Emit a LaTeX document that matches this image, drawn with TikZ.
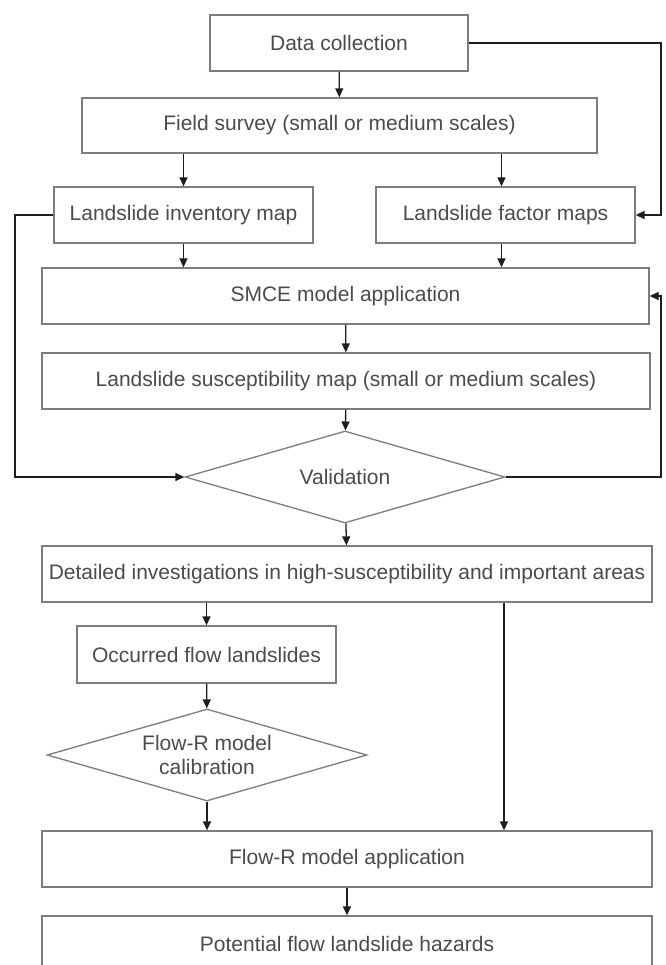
\documentclass[tikz,border=0pt]{standalone}
\usepackage{fontspec}
\setmainfont{Liberation Sans}
\usepackage{tikz}
\usetikzlibrary{positioning, arrows.meta, shapes.geometric, calc}
\definecolor{boxgray}{RGB}{125,125,125}
\definecolor{txtgray}{RGB}{75,75,75}
\definecolor{arrgray}{RGB}{30,30,30}

\begin{document}
\begin{tikzpicture}[
  x=1pt, y=-1pt,
  font=\fontsize{21}{24}\selectfont,
  stage/.style={draw=boxgray, line width=1.3pt, minimum height=56pt,
                align=center, text=txtgray, inner sep=0pt},
  check/.style={draw=boxgray, line width=1.3pt, diamond, aspect=3.48,
                minimum width=320pt, minimum height=92pt, inner sep=0pt,
                align=center, text=txtgray},
  arr/.style={-{Triangle[length=9pt,width=8pt]}, draw=arrgray, line width=1.3pt},
]
\clip (0,0) rectangle (665,965);
\fill[white] (0,0) rectangle (665,965);

\node[stage, minimum width=258pt] (data)    at (339, 43)     {Data collection};
\node[stage, minimum width=515pt, minimum height=55pt] (field) at (339.5, 125.5) {Field survey (small or medium scales)};
\node[stage, minimum width=259pt] (invent)  at (183.5, 215)  {Landslide inventory map};
\node[stage, minimum width=259pt] (factor)  at (505.5, 215)  {Landslide factor maps};
\node[stage, minimum width=607pt] (smce)    at (345.5, 296)  {SMCE model application};
\node[stage, minimum width=608pt] (suscept) at (346, 381)    {Landslide susceptibility map (small or medium scales)};
\node[check] (valid) at (345, 477) {Validation};
\node[stage, minimum width=610pt] (detail)  at (347, 574)    {Detailed investigations in high-susceptibility and important areas};
\node[stage, minimum width=259pt, minimum height=57pt] (occur) at (206.5, 654.5) {Occurred flow landslides};
\node[check] (calib) at (207, 755) {Flow-R model\\calibration};
\node[stage, minimum width=610pt] (flowapp) at (347, 859)    {Flow-R model application};
\node[stage, minimum width=610pt] (hazard)  at (347, 944)    {Potential flow landslide hazards};

% corners of the feedback lines
\coordinate (rtop) at (661, 43);
\coordinate (rmid) at (661, 296);
\coordinate (lft)  at (15, 215);

\draw[arr] (data) -- (field);
\draw[arr] (invent.north |- field.south) -- (invent.north);
\draw[arr] ([xshift=-4pt]factor.north |- field.south) -- ([xshift=-4pt]factor.north);
\draw[arr] (data.east) -- (rtop) |- (factor.east);
\draw[arr] (invent.south) -- (invent.south |- smce.north);
\draw[arr] ([xshift=-4pt]factor.south) -- ([xshift=-4pt]factor.south |- smce.north);
\draw[arr] (smce) -- (suscept);
\draw[arr] (suscept) -- (valid);
\draw[arr] (invent.west) -- (lft) |- (valid.west);
\draw[arr] (valid.east) -| (rmid) -- (smce.east);
\draw[arr] (valid) -- (detail);
\draw[arr] (occur.north |- detail.south) -- (occur.north);
\draw[arr] (occur) -- (calib);
\draw[arr] (calib.south) -- (calib.south |- flowapp.north);
\draw[arr] ([xshift=157pt]flowapp.north |- detail.south) -- ([xshift=157pt]flowapp.north);
\draw[arr] (flowapp) -- (hazard);
\end{tikzpicture}
\end{document}
